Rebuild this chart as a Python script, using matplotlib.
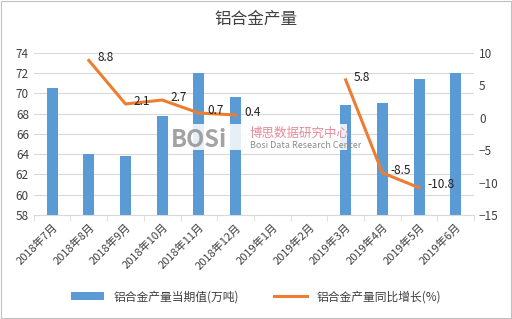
import numpy as np
from matplotlib import pyplot as plt

plt.rcParams['font.family'] = ['Noto Sans CJK SC', 'DejaVu Sans']

months = ['2018年7月', '2018年8月', '2018年9月', '2018年10月', '2018年11月', '2018年12月',
          '2019年1月', '2019年2月', '2019年3月', '2019年4月', '2019年5月', '2019年6月']
output = [70.5, 64.0, 63.8, 67.8, 72.0, 69.6, np.nan, np.nan, 68.8, 69.0, 71.4, 72.0]
growth = [np.nan, 8.8, 2.1, 2.7, 0.7, 0.4, np.nan, np.nan, 5.8, -8.5, -10.8, np.nan]

fig = plt.figure(figsize=(5.12, 3.19), dpi=100)
ax = fig.add_axes([0.066, 0.326, 0.86, 0.509])
x = np.arange(len(months))

ax.bar(x, output, width=0.3, color='#5B9BD5', label='铝合金产量当期值(万吨)', zorder=2)
ax.set_ylim(58, 74)
ax.set_yticks(range(58, 75, 2))
ax.set_xlim(-0.5, len(months) - 0.5)
ax.grid(axis='y', color='#d9d9d9', linewidth=0.8, zorder=0)
ax.set_axisbelow(True)
ax.set_xticks(x)
ax.set_xticklabels(months, rotation=45, ha='right', rotation_mode='anchor', fontsize=8, color='#404040')
ax.set_xticks(np.arange(-0.5, len(months)), minor=True)
ax.tick_params(axis='x', which='major', length=0, pad=5)
ax.tick_params(axis='x', which='minor', length=4, color='#d9d9d9')
ax.tick_params(axis='y', length=0, labelsize=8.5, labelcolor='#404040')
for s in ['top', 'right', 'left']:
    ax.spines[s].set_visible(False)
ax.spines['bottom'].set_color('#d9d9d9')

# watermark box over the bars
box = plt.Rectangle((0.328, 0.53), 0.35, 0.08, transform=fig.transFigure,
                    facecolor='white', edgecolor='none', alpha=0.85, zorder=5)
fig.patches.append(box)
fig.text(0.333, 0.538, 'BOSi', fontsize=17, fontweight='bold', color='#8c8c8c', alpha=0.8, zorder=6)
fig.text(0.488, 0.572, '博思数据研究中心', fontsize=9, color='#e58a9a', zorder=6)
fig.text(0.488, 0.537, 'Bosi Data Research Center', fontsize=6.5, color='#8c8c8c', zorder=6)

ax2 = ax.twinx()
ax2.set_zorder(10)
ax2.plot(x, growth, color='#ED7D31', linewidth=2.2, label='铝合金产量同比增长(%)', zorder=3)
ax2.set_ylim(-15, 10)
ax2.set_yticks(range(-15, 11, 5))
ax2.tick_params(axis='y', length=0, labelsize=8.5, labelcolor='#404040')
for s in ['top', 'right', 'left', 'bottom']:
    ax2.spines[s].set_visible(False)
for xi, g in zip(x, growth):
    if not np.isnan(g):
        ax2.annotate(f'{g:.1f}', (xi, g), xytext=(6, 2), textcoords='offset points',
                     fontsize=8.5, color='#202020', ha='left', va='center')

fig.suptitle('铝合金产量', y=0.965, fontsize=12, color='#404040')

h1, l1 = ax.get_legend_handles_labels()
h2, l2 = ax2.get_legend_handles_labels()
fig.legend(h1 + h2, l1 + l2, loc='center', bbox_to_anchor=(0.5, 0.07), ncol=2, frameon=False,
           fontsize=8.5, handlelength=2.8, columnspacing=3, labelcolor='#404040')

fig.patches.append(plt.Rectangle((0.002, 0.004), 0.996, 0.992, transform=fig.transFigure,
                                 fill=False, edgecolor='#c0c0c0', linewidth=0.8))
fig.savefig('out.png', dpi=100)
